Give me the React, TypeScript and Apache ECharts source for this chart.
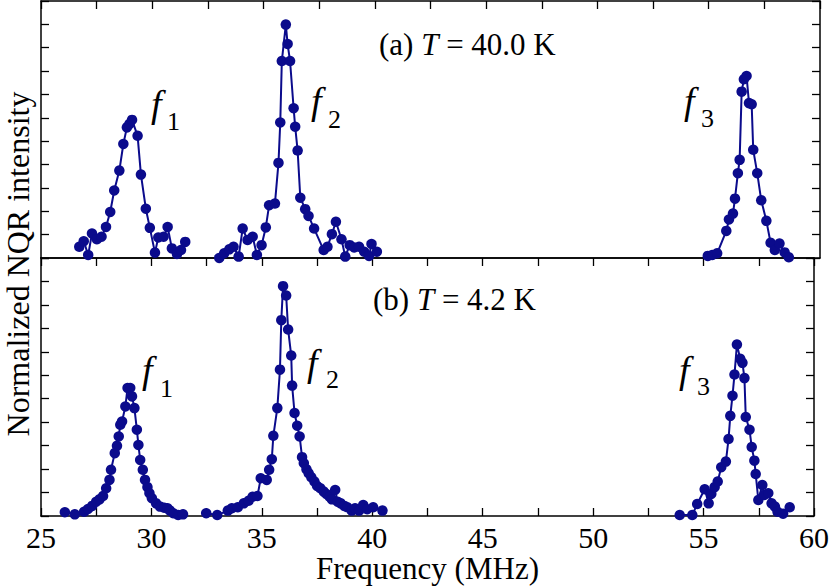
import React, { useEffect, useRef } from "react";
import * as echarts from "echarts";

// x = frequency (MHz), y = normalized intensity (tick units)
const topF1: number[][] = [
  [26.72, 0.48], [26.92, 0.72], [27.12, 0.13], [27.29, 1.05], [27.51, 0.8], [27.72, 0.91],
  [27.92, 1.33], [28.11, 1.97], [28.29, 2.89], [28.52, 3.74], [28.7, 4.88], [28.86, 5.59],
  [28.97, 5.73], [29.09, 5.91], [29.34, 5.23], [29.49, 3.57], [29.71, 2.11], [29.89, 1.29],
  [30.12, 0.23], [30.27, 0.88], [30.51, 0.91], [30.69, 1.33], [30.88, 0.41], [31.11, 0.17],
  [31.29, 0.34], [31.48, 0.69],
];
const topF2: number[][] = [
  [33.01, 0.0], [33.23, 0.2], [33.46, 0.37], [33.65, 0.48], [33.88, 0.06], [34.06, 1.26],
  [34.28, 0.77], [34.51, 0.91], [34.7, 0.13], [34.91, 0.55], [35.1, 1.31], [35.25, 2.26],
  [35.51, 2.33], [35.67, 4.07], [35.75, 5.8], [35.82, 8.43], [36.0, 9.99], [36.08, 9.16],
  [36.19, 8.43], [36.35, 6.41], [36.42, 5.62], [36.53, 4.6], [36.65, 2.58], [36.87, 2.09],
  [37.02, 1.8], [37.27, 1.26], [37.7, 0.34], [37.87, 0.48], [38.07, 1.02], [38.25, 1.55],
  [38.5, 0.8], [38.67, 0.06], [38.87, 0.55], [39.07, 0.45], [39.29, 0.48], [39.52, 0.27],
  [39.74, 0.09], [39.85, 0.6], [40.09, 0.27],
];
const topF3: number[][] = [
  [54.96, 0.09], [55.16, 0.13], [55.38, 0.2], [55.79, 1.16], [55.91, 1.65], [56.09, 1.9],
  [56.18, 2.54], [56.31, 3.63], [56.39, 4.2], [56.48, 7.12], [56.58, 7.65], [56.7, 7.79],
  [56.81, 6.63], [56.93, 6.58], [57.0, 4.63], [57.18, 3.63], [57.36, 2.47], [57.59, 1.59],
  [57.78, 0.65], [57.97, 0.34], [58.18, 0.62], [58.41, 0.24], [58.6, 0.03],
];
const botF1: number[][] = [
  [26.08, 0.16], [26.53, 0.07], [26.95, 0.18], [27.13, 0.3], [27.32, 0.43], [27.5, 0.61],
  [27.65, 0.71], [27.81, 0.85], [27.95, 1.18], [28.1, 1.54], [28.17, 1.97], [28.34, 2.68],
  [28.44, 2.99], [28.52, 3.39], [28.59, 3.89], [28.67, 4.03], [28.82, 4.67], [28.92, 5.46],
  [29.04, 5.46], [29.12, 5.1], [29.23, 4.6], [29.34, 3.68], [29.41, 3.03], [29.49, 2.39],
  [29.61, 1.97], [29.71, 1.54], [29.82, 1.23], [29.91, 0.97], [30.02, 0.76], [30.21, 0.54],
  [30.39, 0.4], [30.58, 0.35], [30.73, 0.33], [30.84, 0.23], [30.99, 0.12], [31.21, 0.04],
  [31.43, 0.07],
];
const botF2: number[][] = [
  [32.48, 0.12], [32.98, 0.04], [33.46, 0.23], [33.64, 0.33], [33.91, 0.37], [34.18, 0.54],
  [34.4, 0.65], [34.58, 0.82], [34.8, 0.85], [34.95, 1.61], [35.22, 1.54], [35.33, 1.97],
  [35.45, 2.42], [35.52, 3.42], [35.7, 4.6], [35.82, 6.24], [35.88, 8.35], [35.96, 9.8],
  [36.1, 9.4], [36.19, 7.95], [36.33, 6.84], [36.37, 5.56], [36.48, 4.39], [36.6, 3.85],
  [36.71, 3.39], [36.82, 2.51], [36.9, 2.25], [37.02, 1.99], [37.12, 1.82], [37.24, 1.65],
  [37.38, 1.47], [37.5, 1.28], [37.65, 1.18], [37.8, 1.04], [37.92, 0.94], [38.07, 0.82],
  [38.17, 0.71], [38.32, 1.11], [38.43, 0.61], [38.57, 0.54], [38.73, 0.43], [38.87, 0.37],
  [39.07, 0.23], [39.22, 0.33], [39.4, 0.23], [39.59, 0.47], [39.77, 0.29], [40.04, 0.37],
  [40.46, 0.23],
];
const botF3: number[][] = [
  [53.92, 0.04], [54.49, 0.04], [54.71, 0.51], [55.05, 1.14], [55.23, 0.54], [55.35, 0.94],
  [55.5, 1.23], [55.64, 1.47], [55.8, 2.08], [56.01, 2.32], [56.13, 3.28], [56.21, 4.27],
  [56.31, 5.13], [56.4, 6.03], [56.51, 7.31], [56.66, 6.7], [56.76, 6.53], [56.85, 5.88],
  [56.91, 4.22], [57.08, 3.68], [57.18, 2.94], [57.3, 2.36], [57.36, 1.79], [57.48, 0.68],
  [57.66, 1.32], [57.75, 0.9], [57.93, 0.97], [58.08, 0.54], [58.23, 0.4], [58.35, 0.18],
  [58.6, 0.1], [58.9, 0.37],
];

const FONT = "Liberation Serif";
const BLUE = "#0b0b8c";

const serif = (size: number, italic = false) => ({
  fontFamily: FONT,
  fontSize: size,
  fontStyle: italic ? "italic" : "normal",
  color: "#000",
  fill: "#000",
});

const tickStyle = { color: "#000", width: 1.3 };
const lineStyle = { color: "#000", width: 1.5 };

function xAxis(gridIndex: number, position: "top" | "bottom", ticks: boolean, labels: boolean): any {
  return {
    type: "value",
    gridIndex,
    position,
    min: 25,
    max: 60,
    interval: 2.5,
    axisLine: { show: true, onZero: false, lineStyle },
    axisTick: { show: ticks, inside: true, length: 8, lineStyle: tickStyle },
    axisLabel: {
      show: labels,
      margin: 6,
      fontFamily: FONT,
      fontSize: 30,
      color: "#000",
      formatter: (v: number) => (v % 5 === 0 ? String(v) : ""),
    },
    splitLine: { show: false },
  };
}

function yAxis(gridIndex: number, position: "left" | "right"): any {
  return {
    type: "value",
    gridIndex,
    position,
    min: 0,
    max: 11,
    interval: 1,
    axisLine: { show: true, onZero: false, lineStyle },
    axisTick: { show: true, inside: true, length: 8, lineStyle: tickStyle },
    axisLabel: { show: false },
    splitLine: { show: false },
  };
}

function peak(data: number[][], xi: number, yi: number): any {
  return {
    type: "line",
    xAxisIndex: xi,
    yAxisIndex: yi,
    data,
    symbol: "circle",
    symbolSize: 10.5,
    clip: false,
    itemStyle: { color: BLUE },
    lineStyle: { color: BLUE, width: 2 },
  };
}

function txt(x: number, y: number, text: string, size: number, italic = false): any {
  return {
    type: "text",
    x,
    y,
    style: {
      text: `{t|${text}}`,
      align: "left",
      verticalAlign: "middle",
      rich: { t: serif(size, italic) },
    },
  };
}

function panelLabel(x: number, y: number, pre: string, post: string): any {
  return {
    type: "text",
    x,
    y,
    style: {
      text: `{n|${pre} }{i|T}{n| = ${post}}`,
      align: "left",
      verticalAlign: "middle",
      rich: { n: serif(31), i: serif(31, true) },
    },
  };
}

const App: React.FC = () => {
  const chartRef = useRef<HTMLDivElement | null>(null);

  useEffect(() => {
    if (!chartRef.current) return;
    const chart = echarts.init(chartRef.current, undefined, { renderer: "svg" });

    const option: any = {
      animation: false,
      backgroundColor: "#fff",
      grid: [
        { left: 41, top: 1, width: 779, height: 257 },
        { left: 41, top: 258, width: 779, height: 258 },
      ],
      xAxis: [
        xAxis(0, "top", true, false),
        xAxis(0, "bottom", false, false),
        xAxis(1, "top", true, false),
        {
          ...xAxis(1, "bottom", true, true),
          name: "Frequency (MHz)",
          nameLocation: "middle",
          nameGap: 35,
          nameTextStyle: { fontFamily: FONT, fontSize: 31, color: "#000" },
        },
      ],
      yAxis: [yAxis(0, "left"), yAxis(0, "right"), yAxis(1, "left"), yAxis(1, "right")],
      graphic: [
        {
          type: "text",
          x: 18,
          y: 264,
          rotation: Math.PI / 2,
          style: {
            text: "{t|Normalized NQR intensity}",
            align: "center",
            verticalAlign: "middle",
            rich: { t: serif(32) },
          },
        },
        panelLabel(379, 44, "(a)", "40.0 K"),
        panelLabel(373, 299, "(b)", "4.2 K"),
        txt(151, 104, "f", 38, true),
        txt(167, 121, "1", 26),
        txt(311, 101, "f", 38, true),
        txt(328, 119, "2", 26),
        txt(684, 101, "f", 38, true),
        txt(701, 118, "3", 26),
        txt(142, 370, "f", 38, true),
        txt(160, 388, "1", 26),
        txt(307, 363, "f", 38, true),
        txt(326, 379, "2", 26),
        txt(679, 370, "f", 38, true),
        txt(697, 386, "3", 26),
      ],
      series: [
        peak(topF1, 1, 0),
        peak(topF2, 1, 0),
        peak(topF3, 1, 0),
        peak(botF1, 3, 2),
        peak(botF2, 3, 2),
        peak(botF3, 3, 2),
      ],
    };

    chart.setOption(option);
    return () => {
      chart.dispose();
    };
  }, []);

  return (
    <div
      ref={chartRef}
      style={{ position: "fixed", left: 0, top: 0, width: "832px", height: "587px", background: "#fff" }}
    />
  );
};

export default App;
